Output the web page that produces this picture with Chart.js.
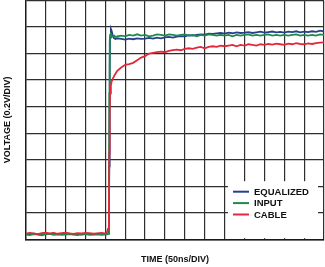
<!DOCTYPE html>
<html>
<head>
<meta charset="utf-8">
<script src="https://cdn.jsdelivr.net/npm/chart.js@4"></script>
<style>
  html, body { margin: 0; padding: 0; background: #fff; }
  #wrap { width: 325px; height: 267px; }
</style>
</head>
<body>
<div id="wrap"><canvas id="scope" width="325" height="267"></canvas></div>
<script>
// Sample times (ns), 50ns per division, 15 divisions
const timeNs = [
    0, 10, 20, 30, 40, 50, 60, 70, 80, 90, 100, 110, 120, 130, 140, 150, 160, 170, 180, 190, 200,
    204, 207, 209, 210, 211, 212, 214, 216, 219, 222, 226, 230,
    240, 250, 260, 270, 280, 290, 300, 310, 320, 330,
    340, 350, 360, 370, 380, 390, 400, 410, 420, 430,
    440, 450, 460, 470, 480, 490, 500, 510, 520, 530,
    540, 550, 560, 570, 580, 590, 600, 610, 620, 630,
    640, 650, 660, 670, 680, 690, 700, 710, 720, 730,
    740, 750
];

// Voltages (V), 0.2V per division
const equalized = [
    0.040, 0.037, 0.042, 0.039, 0.035, 0.041, 0.038, 0.043, 0.036, 0.040, 0.038, 0.042, 0.037, 0.040, 0.035, 0.041, 0.039, 0.037, 0.042, 0.038, 0.040,
    0.040, 0.042, 0.080, 0.550, 1.300, 1.520, 1.585, 1.570, 1.530, 1.515, 1.510, 1.515,
    1.510, 1.505, 1.512, 1.508, 1.515, 1.510, 1.512, 1.518, 1.512, 1.520,
    1.515, 1.522, 1.525, 1.520, 1.528, 1.532, 1.530, 1.538, 1.535, 1.540,
    1.545, 1.542, 1.550, 1.548, 1.552, 1.555, 1.550, 1.557, 1.553, 1.560,
    1.555, 1.558, 1.562, 1.555, 1.560, 1.565, 1.558, 1.562, 1.566, 1.560,
    1.564, 1.558, 1.565, 1.562, 1.568, 1.560, 1.565, 1.562, 1.568, 1.563,
    1.572, 1.566
];

const input = [
    0.035, 0.031, 0.038, 0.034, 0.030, 0.036, 0.040, 0.033, 0.037, 0.032, 0.035, 0.039, 0.034, 0.031, 0.036, 0.038, 0.033, 0.035, 0.037, 0.032, 0.035,
    0.036, 0.040, 0.300, 1.100, 1.480, 1.540, 1.545, 1.535, 1.530, 1.535, 1.525, 1.530,
    1.535, 1.530, 1.540, 1.535, 1.545, 1.535, 1.540, 1.530, 1.535, 1.545,
    1.540, 1.535, 1.545, 1.540, 1.535, 1.540, 1.545, 1.535, 1.540, 1.530,
    1.540, 1.535, 1.545, 1.540, 1.535, 1.540, 1.535, 1.540, 1.530, 1.540,
    1.535, 1.540, 1.545, 1.535, 1.540, 1.535, 1.540, 1.545, 1.535, 1.540,
    1.535, 1.540, 1.535, 1.540, 1.545, 1.535, 1.540, 1.535, 1.540, 1.535,
    1.545, 1.540
];

const cable = [
    0.042, 0.048, 0.044, 0.039, 0.046, 0.050, 0.043, 0.047, 0.041, 0.045, 0.049, 0.044, 0.040, 0.046, 0.043, 0.048, 0.045, 0.041, 0.044, 0.047, 0.043,
    0.050, 0.080, 0.250, 0.650, 0.950, 1.100, 1.160, 1.190, 1.210, 1.230, 1.250, 1.270,
    1.295, 1.315, 1.320, 1.330, 1.350, 1.370, 1.380, 1.400, 1.405, 1.410,
    1.415, 1.410, 1.420, 1.425, 1.430, 1.425, 1.435, 1.440, 1.435, 1.445,
    1.450, 1.440, 1.450, 1.455, 1.450, 1.460, 1.455, 1.460, 1.465, 1.455,
    1.465, 1.460, 1.470, 1.465, 1.460, 1.470, 1.465, 1.472, 1.468, 1.475,
    1.470, 1.465, 1.475, 1.470, 1.478, 1.472, 1.470, 1.476, 1.472, 1.478,
    1.482, 1.485
];

const seriesNames = ['EQUALIZED', 'INPUT', 'CABLE'];
const seriesColors = ['#27408e', '#1e8a4c', '#e3283a'];

function toPoints(values) {
    return values.map((v, i) => ({ x: timeNs[i], y: v }));
}

// Legend box drawn inside the plot, lower right
const insideLegend = {
    id: 'insideLegend',
    afterDatasetsDraw(chart) {
        const { ctx, chartArea } = chart;
        const boxRight = chartArea.right - 6;
        const boxLeft = boxRight - 90;
        const boxTop = chartArea.bottom - 58;
        ctx.save();
        ctx.fillStyle = '#fff';
        ctx.fillRect(boxLeft, boxTop, boxRight - boxLeft, chartArea.bottom - 1 - boxTop);
        ctx.font = 'bold 9.5px "Liberation Sans", Arial, sans-serif';
        ctx.textBaseline = 'middle';
        chart.data.datasets.forEach((ds, i) => {
            const y = boxTop + 10.5 + i * 11.4;
            ctx.strokeStyle = ds.borderColor;
            ctx.lineWidth = 2;
            ctx.beginPath();
            ctx.moveTo(boxLeft + 5, y);
            ctx.lineTo(boxLeft + 21, y);
            ctx.stroke();
            ctx.fillStyle = '#111';
            ctx.fillText(ds.label, boxLeft + 26, y + 0.5);
        });
        ctx.restore();
    }
};

const datasets = [equalized, input, cable].map((values, i) => ({
    label: seriesNames[i],
    data: toPoints(values),
    borderColor: seriesColors[i],
    backgroundColor: seriesColors[i],
    borderWidth: 1.8,
    pointRadius: 0,
    tension: 0,
    // red on top, then green, then blue
    order: 2 - i
}));

const axisFont = { family: '"Liberation Sans", Arial, sans-serif', size: 9, weight: 'bold' };

new Chart(document.getElementById('scope'), {
    type: 'line',
    data: { datasets },
    options: {
        responsive: false,
        animation: false,
        layout: { padding: { top: 0.5, right: 1, bottom: 0, left: 0 } },
        plugins: {
            legend: { display: false },
            tooltip: { enabled: false }
        },
        scales: {
            x: {
                type: 'linear',
                min: 0,
                max: 750,
                ticks: { display: false, stepSize: 50 },
                grid: { color: '#2e2e2e', lineWidth: 1.2, drawTicks: false },
                border: { color: '#1a1a1a', width: 1.4 },
                title: {
                    display: true,
                    text: 'TIME (50ns/DIV)',
                    color: '#111',
                    font: axisFont,
                    padding: { top: 15, bottom: 2 }
                }
            },
            y: {
                min: 0,
                max: 1.8,
                ticks: { display: false, stepSize: 0.2 },
                grid: { color: '#2e2e2e', lineWidth: 1.2, drawTicks: false },
                border: { color: '#1a1a1a', width: 1.4 },
                title: {
                    display: true,
                    text: 'VOLTAGE (0.2V/DIV)',
                    color: '#111',
                    font: axisFont,
                    padding: { top: 2, bottom: 13 }
                }
            }
        }
    },
    plugins: [insideLegend]
});
</script>
</body>
</html>
